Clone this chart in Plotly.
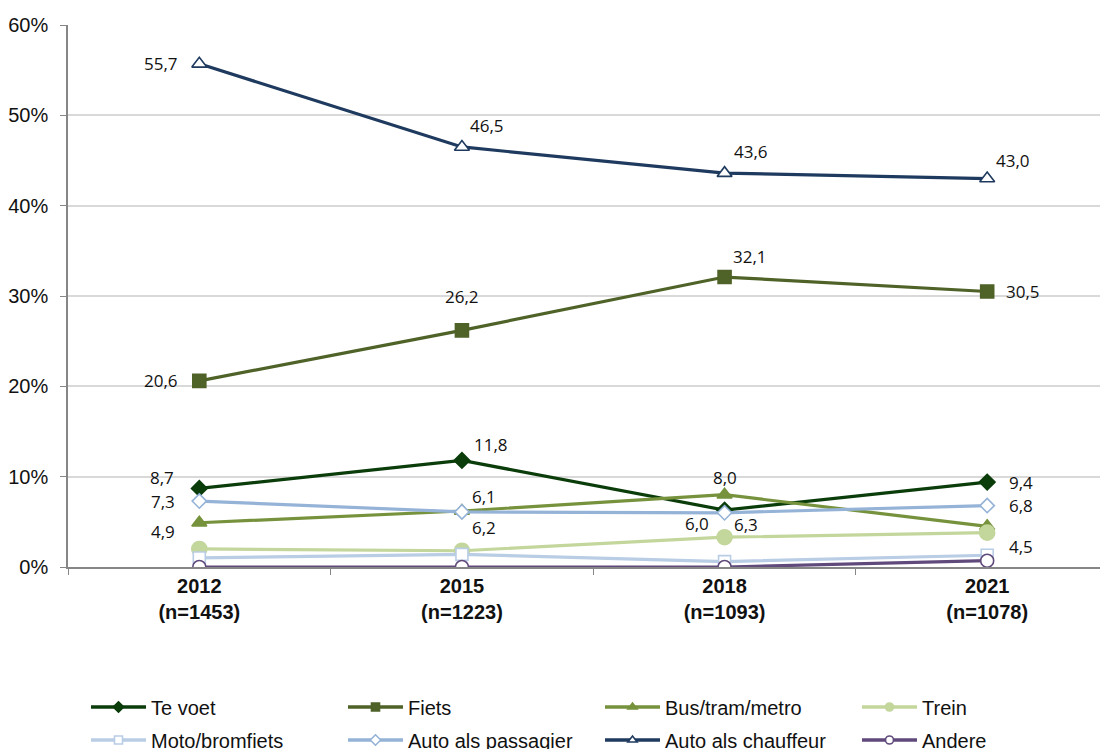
import plotly.graph_objects as go

years = ["2012<br>(n=1453)", "2015<br>(n=1223)", "2018<br>(n=1093)", "2021<br>(n=1078)"]

te_voet = [8.7, 11.8, 6.3, 9.4]
fiets = [20.6, 26.2, 32.1, 30.5]
bus = [4.9, 6.2, 8.0, 4.5]
trein = [2.0, 1.8, 3.3, 3.8]
moto = [1.0, 1.4, 0.6, 1.3]
passagier = [7.3, 6.1, 6.0, 6.8]
chauffeur = [55.7, 46.5, 43.6, 43.0]
andere = [0.0, 0.0, 0.0, 0.7]

# name, values, colour, symbol, filled, size, legend row
series = [
    ("Te voet", te_voet, "#0b3d0b", "diamond", True, 12, "legend"),
    ("Fiets", fiets, "#4f6228", "square", True, 13, "legend"),
    ("Bus/tram/metro", bus, "#76923c", "triangle-up", True, 13, "legend"),
    ("Trein", trein, "#c3d69b", "circle", True, 15, "legend"),
    ("Moto/bromfiets", moto, "#b9cde5", "square", False, 12, "legend2"),
    ("Auto als passagier", passagier, "#95b3d7", "diamond", False, 11, "legend2"),
    ("Auto als chauffeur", chauffeur, "#1f3a5f", "triangle-up", False, 13, "legend2"),
    ("Andere", andere, "#604a7b", "circle", False, 13, "legend2"),
]

# label offsets (xshift, yshift) per point
offsets = {
    "Te voet": [(-37, 11), (29, 16), (21, -14), (34, 0)],
    "Fiets": [(-38, 0), (0, 34), (25, 21), (36, 0)],
    "Bus/tram/metro": [(-36, -9), (22, -17), (0, 17), (34, -20)],
    "Auto als passagier": [(-36, 0), (22, 15), (-28, -11), (34, 0)],
    "Auto als chauffeur": [(-38, 0), (25, 21), (26, 22), (26, 18)],
}

fig = go.Figure()
for name, vals, col, sym, filled, size, leg in series:
    mk = dict(symbol=sym, color=col if filled else "white", line=dict(color=col, width=1.6))
    fig.add_trace(go.Scatter(
        x=years, y=vals, name=name, mode="lines+markers", showlegend=False,
        line=dict(color=col, width=3.2), marker=dict(mk, size=size),
    ))
    # legend entry with smaller marker, like the original
    fig.add_trace(go.Scatter(
        x=[None], y=[None], name=name, mode="lines+markers", legend=leg,
        line=dict(color=col, width=3.5), marker=dict(mk, size=8),
    ))
    if name in offsets:
        for i, v in enumerate(vals):
            dx, dy = offsets[name][i]
            fig.add_annotation(
                x=years[i], y=v, text=f"{v:.1f}".replace(".", ","), showarrow=False,
                xshift=dx, yshift=dy, font=dict(family="Open Sans", size=17, color="#111111"),
            )

# page body has an 8px margin, so the figure is 8px smaller than the window
W, H = 1100, 741

leg_style = dict(
    orientation="h", xref="container", yref="container", x=78 / W,
    xanchor="left", yanchor="middle", entrywidth=187, itemwidth=55,
    font=dict(size=20, family="Liberation Sans", color="#111111"), bgcolor="rgba(0,0,0,0)",
)

fig.update_layout(
    width=W, height=H,
    margin=dict(l=60, r=0, t=17, b=182),
    plot_bgcolor="white", paper_bgcolor="white",
    font=dict(family="Liberation Sans", color="#111111"),
    showlegend=True,
    legend=dict(leg_style, y=1 - 699 / H),
    legend2=dict(leg_style, y=1 - 732 / H),
)
fig.update_xaxes(
    range=[-0.5, 3.46], showgrid=False, showline=True, linecolor="#868686", linewidth=1.5,
    ticks="outside", tickson="boundaries", ticklen=6, tickcolor="#868686", automargin=False,
    tickfont=dict(size=20, family="Liberation Sans", color="#111111"),
    tickvals=years, ticktext=[f"<b>{y}</b>" for y in years],
)
fig.update_yaxes(
    range=[0, 60], dtick=10, ticksuffix="%", showgrid=True, gridcolor="#d9d9d9", gridwidth=1.5,
    showline=True, linecolor="#868686", linewidth=1.5, ticks="outside", ticklen=6,
    tickcolor="#868686", zeroline=False, automargin=False, ticklabelstandoff=8,
    tickfont=dict(size=20, family="Liberation Sans", color="#111111"),
)

fig.write_html("out.html")
